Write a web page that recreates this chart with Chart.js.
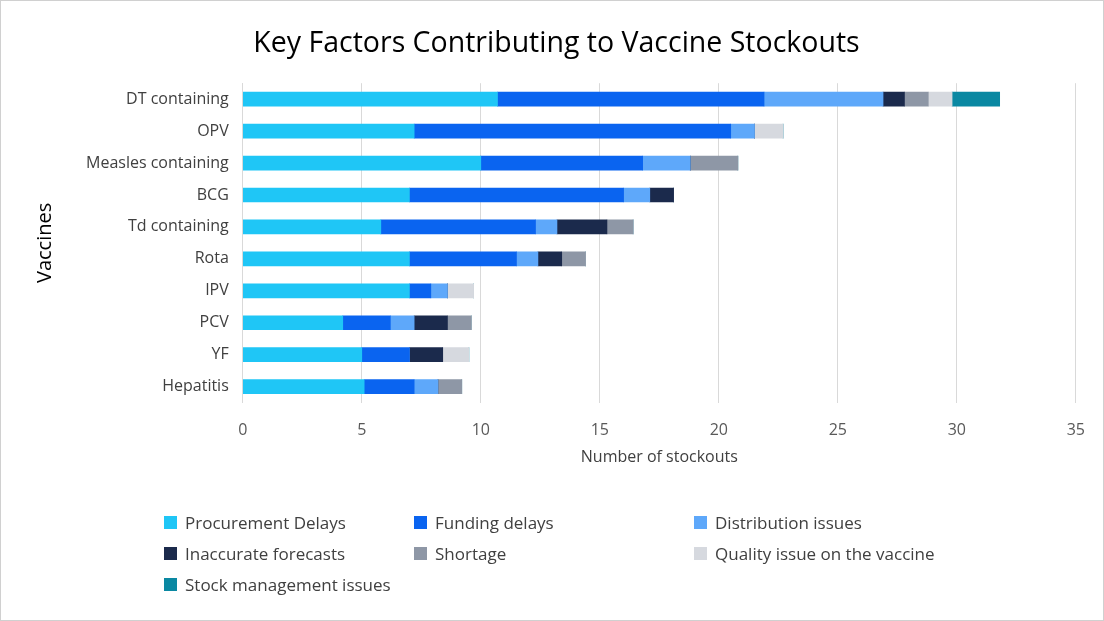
<!DOCTYPE html>
<html><head><meta charset="utf-8">
<script src="https://cdn.jsdelivr.net/npm/chart.js@4"></script>
<style>
body{margin:0;background:#fff;font-family:"Open Sans",sans-serif}
#wrap{position:relative;width:1102px;height:619px;border:1px solid #d0d0d0}
#lg{position:absolute;left:163px;top:510px;width:900px;display:grid;grid-template-columns:250px 280px 300px;row-gap:8px;font-size:17px;color:#404040}
#lg div{display:flex;align-items:center}
#lg span{display:inline-block;width:13px;height:13px;margin-right:8px}
</style></head><body>
<div id="wrap"><canvas id="c" width="1102" height="619"></canvas><div id="lg"></div></div>
<script>
const categories=["DT containing","OPV","Measles containing","BCG","Td containing","Rota","IPV","PCV","YF","Hepatitis"];
const seriesNames=["Procurement Delays","Funding delays","Distribution issues","Inaccurate forecasts","Shortage","Quality issue on the vaccine","Stock management issues"];
const procurement=[10.7,7.2,10,7,5.8,7,7,4.2,5,5.1];
const funding=[11.2,13.3,6.8,9,6.5,4.5,0.9,2,2,2.1];
const distribution=[5,1,2,1.1,0.9,0.9,0.7,1,0,1];
const inaccurate=[0.9,0,0,1,2.1,1,0,1.4,1.4,0];
const shortage=[1,0,2,0,1.1,1,0,1,0,1];
const quality=[1,1.2,0,0,0,0,1.1,0,1.1,0];
const stock=[2,0,0,0,0,0,0,0,0,0];
const xTicks=[0,5,10,15,20,25,30,35];
const colors=["#1FC6F6","#0A64F0","#5EA8FA","#1B2A4C","#8E97A6","#D6D9DF","#0A88A2"];
const data=[procurement,funding,distribution,inaccurate,shortage,quality,stock];
const lg=document.getElementById('lg');
seriesNames.forEach((n,i)=>{lg.innerHTML+=`<div><span style="background:${colors[i]}"></span>${n}</div>`;});
new Chart(document.getElementById('c'),{type:'bar',
data:{labels:categories,datasets:seriesNames.map((n,i)=>({label:n,data:data[i],backgroundColor:colors[i],barThickness:14}))},
options:{indexAxis:'y',responsive:false,animation:false,
layout:{padding:{left:32,right:23,top:16,bottom:153}},
plugins:{legend:{display:false},title:{display:true,text:'Key Factors Contributing to Vaccine Stockouts',font:{size:28.5,family:'"Open Sans"',weight:'normal'},color:'#000',padding:{top:10,bottom:22}}},
scales:{x:{stacked:true,min:0,max:35,afterBuildTicks:a=>{a.ticks=xTicks.map(v=>({value:v}))},grid:{color:'#d9d9d9',drawTicks:false},border:{display:false},ticks:{color:'#595959',font:{size:16,family:'"Open Sans"'},padding:18},
 title:{display:true,text:'Number of stockouts',color:'#404040',font:{size:16,family:'"Open Sans"'},padding:{top:-10,bottom:0}}},
 y:{stacked:true,grid:{display:false},border:{color:'#d9d9d9'},afterFit:a=>{a.width+=23},ticks:{color:'#404040',font:{size:16,family:'"Open Sans"'},padding:6},
 title:{display:true,text:'Vaccines',color:'#000',font:{size:20,family:'"Open Sans"'},padding:0}}}}});
</script></body></html>
